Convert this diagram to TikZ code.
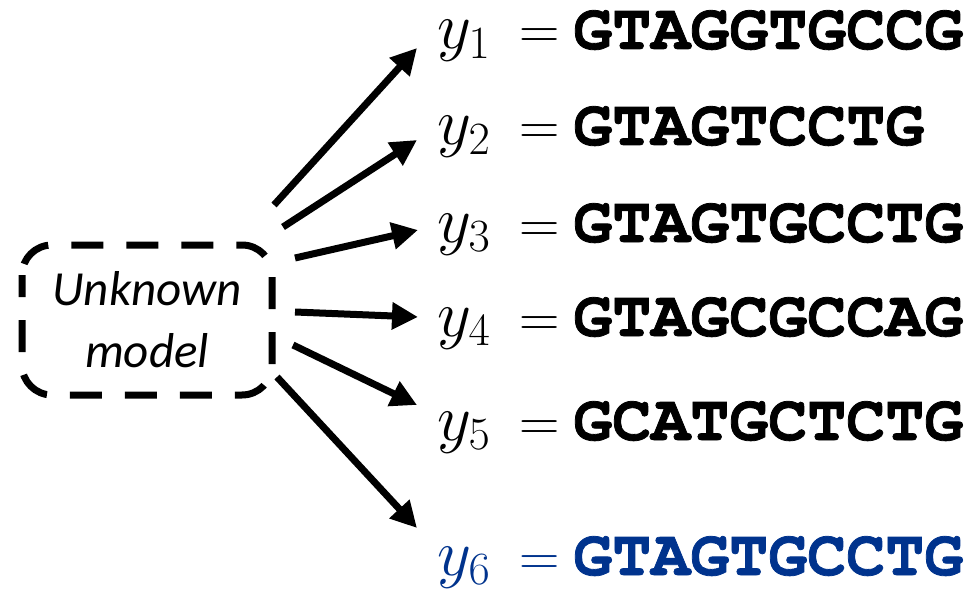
\RequirePackage{fix-cm}
\documentclass[tikz,border=0pt]{standalone}
\usepackage{fontspec}
\usetikzlibrary{arrows.meta}
\newfontfamily\boxfont{Carlito}
\newfontfamily\seqfont{texgyrecursor}[Extension=.otf,UprightFont=*-bold,BoldFont=*-bold,UprightFeatures={FakeBold=1.2}]
\definecolor{seqblue}{RGB}{0,51,141}
\begin{document}
\begin{tikzpicture}[x=1pt,y=-1pt,
  arr/.style={line width=7pt,-{Triangle[length=26pt,width=26pt]}},
  lab/.style={anchor=base west,inner sep=0pt,text height=30pt,font=\fontsize{66}{66}\selectfont},
  eqs/.style={anchor=base,inner sep=0pt,text height=20pt,font=\fontsize{56}{56}\selectfont},
  seq/.style={anchor=base west,inner sep=0pt,text height=34pt,font=\fontsize{65}{65}\selectfont\seqfont}]
\useasboundingbox (0,0) rectangle (972,599);
\draw[line width=7pt,dash pattern=on 32pt off 23pt,dash phase=10pt,rounded corners=30pt]
  (22,245) rectangle (272,395);
\node[inner sep=0pt,anchor=base,font=\fontsize{49}{49}\selectfont\boxfont\itshape] (t1) at (147,305) {Unknown};
\node[inner sep=0pt,anchor=base,font=\fontsize{49}{49}\selectfont\boxfont\itshape] (t2) at (147,367) {model};
\foreach \i/\s/\b in {1/GTAGGTGCCG/49,2/GTAGTCCTG/145,3/GTAGTGCCTG/242,4/GTAGCGCCAG/336,5/GCATGCTCTG/440}{
  \node[lab] (y\i) at (437,\b) {$y_{\i}$};
  \node[eqs] (eq\i) at (540,\b) {$=$};
  \node[seq] (q\i) at (573,\b) {\s};
}
\node[lab,text=seqblue] (y6) at (437,575) {$y_{6}$};
\node[eqs,text=seqblue] (eq6) at (540,575) {$=$};
\node[seq,text=seqblue] (q6) at (573,575) {GTAGTGCCTG};
\coordinate (s1) at (274,205); \coordinate (e1) at (417,48);
\coordinate (s2) at (283,227); \coordinate (e2) at (417,140);
\coordinate (s3) at (295,258); \coordinate (e3) at (418,230);
\coordinate (s4) at (295,312); \coordinate (e4) at (418,317);
\coordinate (s5) at (293,345); \coordinate (e5) at (417,405);
\coordinate (s6) at (277,377); \coordinate (e6) at (417,528);
\foreach \i in {1,...,6}{\draw[arr] (s\i) -- (e\i);}
\end{tikzpicture}
\end{document}
